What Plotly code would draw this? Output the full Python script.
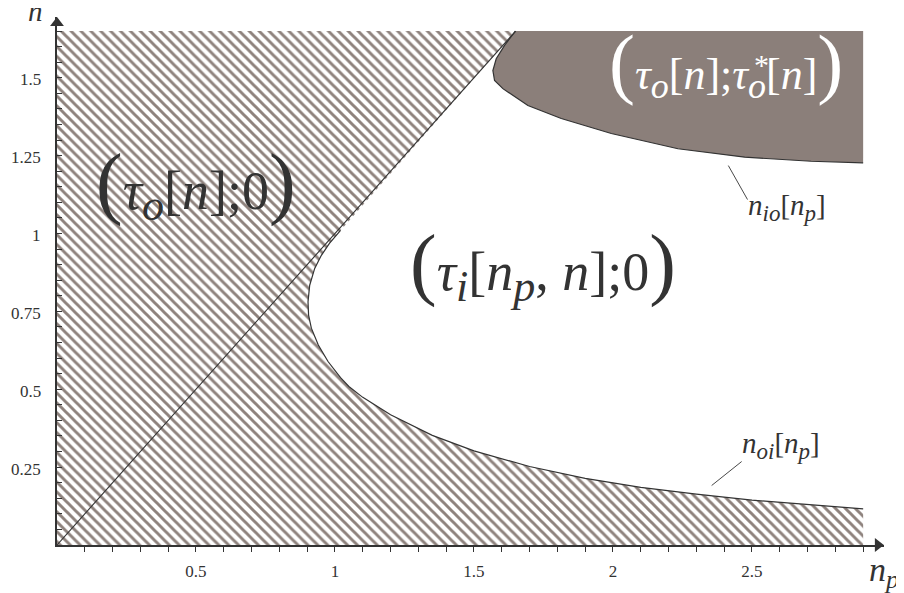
import plotly.graph_objects as go

# frontière basse de la zone blanche : n_oi[n_p]
noi_np = [1.02, 0.98, 0.951, 0.927, 0.909, 0.903, 0.905, 0.915, 0.94, 0.975, 1.02, 1.05,
          1.1, 1.2, 1.35, 1.5, 1.7, 1.9, 2.1, 2.3, 2.5, 2.7, 2.9]
noi_n = [1.01, 0.968, 0.93, 0.888, 0.834, 0.781, 0.738, 0.696, 0.642, 0.589, 0.537, 0.509,
         0.474, 0.418, 0.352, 0.302, 0.252, 0.214, 0.185, 0.163, 0.144, 0.129, 0.116]

# frontière de la zone grise : n_io[n_p]
nio_np = [1.649, 1.61, 1.58, 1.568, 1.574, 1.604, 1.694, 1.814, 1.994, 2.234, 2.474, 2.713, 2.9]
nio_n = [1.65, 1.604, 1.561, 1.523, 1.491, 1.465, 1.411, 1.369, 1.321, 1.272, 1.245, 1.232, 1.227]

n_max = 1.65
np_max = 2.9
diag = [0, 1.65]

# étiquettes des axes
xtick_vals = [round(0.1 * k, 1) for k in range(1, 30)]
xtick_text = [str(v).rstrip("0").rstrip(".") if (k + 1) % 5 == 0 else "" for k, v in enumerate(xtick_vals)]
ytick_vals = [round(0.05 * k, 2) for k in range(1, 34)]
ylab_vals = [0.25, 0.5, 0.75, 1, 1.25, 1.5]
ylab_text = ["0.25", "0.5", "0.75", "1", "1.25", "1.5"]

# traits de renvoi vers les courbes
ptr_io_x, ptr_io_y = [2.415, 2.484], [1.218, 1.109]
ptr_oi_x, ptr_oi_y = [2.355, 2.463], [0.191, 0.268]

dark = "#333333"
hatch = "#8e827d"
grey = "#8b7f7a"
serif = "Liberation Serif"

fig = go.Figure()

# zone hachurée : à gauche de la diagonale et sous n_oi
hx = [0, np_max, np_max] + noi_np[::-1] + [diag[1], 0, 0]
hy = [0, 0, noi_n[-1]] + noi_n[::-1] + [diag[1], n_max, 0]
fig.add_trace(go.Scatter(x=hx, y=hy, fill="toself", mode="lines", line=dict(width=0),
                         fillcolor="rgba(0,0,0,0)",
                         fillpattern=dict(shape="\\", fgcolor=hatch, bgcolor="white",
                                          fgopacity=1, size=7, solidity=0.42),
                         hoverinfo="skip"))

# zone grise au-dessus de n_io
gx = nio_np + [np_max, nio_np[0]]
gy = nio_n + [n_max, n_max]
fig.add_trace(go.Scatter(x=gx, y=gy, fill="toself", mode="lines", line=dict(width=0),
                         fillcolor=grey, hoverinfo="skip"))

# courbes et diagonale
fig.add_trace(go.Scatter(x=nio_np, y=nio_n, mode="lines", line=dict(color=dark, width=1.2)))
fig.add_trace(go.Scatter(x=noi_np, y=noi_n, mode="lines", line=dict(color=dark, width=1.2)))
fig.add_trace(go.Scatter(x=diag, y=diag, mode="lines", line=dict(color=dark, width=1.1)))
fig.add_trace(go.Scatter(x=ptr_io_x, y=ptr_io_y, mode="lines", line=dict(color=dark, width=0.9)))
fig.add_trace(go.Scatter(x=ptr_oi_x, y=ptr_oi_y, mode="lines", line=dict(color=dark, width=0.9)))

# flèches des axes
fig.add_trace(go.Scatter(x=[2.953], y=[0], mode="markers", cliponaxis=False,
                         marker=dict(symbol="triangle-right", size=12, color=dark)))
fig.add_trace(go.Scatter(x=[0], y=[1.676], mode="markers", cliponaxis=False,
                         marker=dict(symbol="triangle-up", size=12, color=dark)))


def big(txt, psize):
    return txt.replace("(", f'<span style="font-size:{psize}px">(</span>').replace(
        ")", f'<span style="font-size:{psize}px">)</span>')


def sb(txt, size):
    # indice un peu plus grand que celui de plotly
    return f'<sub><span style="font-size:{size}px">{txt}</span></sub>'


ann = [
    dict(x=0.5, y=1.16, text=big(f"(<i>τ{sb('o', 44)}</i>[<i>n</i>];0)", 80),
         font=dict(family=serif, size=54, color=dark)),
    dict(x=1.75, y=0.90, text=big(f"(<i>τ{sb('i', 44)}</i>[<i>n{sb('p', 44)}</i>, <i>n</i>];0)", 80),
         font=dict(family=serif, size=54, color=dark)),
    dict(x=2.408, y=1.55, text=big(f"(<i>τ{sb('o', 36)}</i>[<i>n</i>];<i>τ{sb('o', 36)}</i>[<i>n</i>])", 78),
         font=dict(family=serif, size=44, color="white")),
    dict(x=2.535, y=1.542, text="*", font=dict(family=serif, size=30, color="white")),
    dict(x=2.625, y=1.084, text=f"<i>n{sb('io', 23)}</i>[<i>n{sb('p', 23)}</i>]",
         font=dict(family=serif, size=29, color=dark)),
    dict(x=2.605, y=0.318, text=f"<i>n{sb('oi', 23)}</i>[<i>n{sb('p', 23)}</i>]",
         font=dict(family=serif, size=29, color=dark)),
    dict(x=-0.026, y=1.012, xref="paper", yref="paper", text="<i>n</i>",
         font=dict(family=serif, size=29, color=dark)),
    dict(x=1.0, y=-0.052, xref="paper", yref="paper", text=f"<i>n{sb('p', 26)}</i>",
         font=dict(family=serif, size=34, color=dark)),
]
for v, t in zip(ylab_vals, ylab_text):
    ann.append(dict(x=0, y=v, text=t, xanchor="right", xshift=-14, yshift=-2,
                    font=dict(family=serif, size=17, color=dark)))
for a in ann:
    a.setdefault("showarrow", False)
    a.setdefault("xanchor", "center")
    a.setdefault("yanchor", "middle")
    fig.add_annotation(**a)

fig.update_xaxes(range=[0, 2.975], tickvals=xtick_vals, ticktext=xtick_text, ticks="outside",
                 ticklen=5, tickcolor=dark, showline=True, linecolor=dark, linewidth=1.5,
                 showgrid=False, zeroline=False, ticklabelstandoff=5,
                 tickfont=dict(family=serif, size=17, color=dark))
fig.update_yaxes(range=[0, 1.695], tickvals=ytick_vals, showticklabels=False, ticks="inside",
                 ticklen=5, tickcolor=dark, showline=True, linecolor=dark, linewidth=1.5,
                 showgrid=False, zeroline=False)
fig.update_layout(width=904, height=593, showlegend=False, plot_bgcolor="white",
                  paper_bgcolor="white", margin=dict(l=49, r=28, t=9, b=56))
fig.write_html("out.html")
